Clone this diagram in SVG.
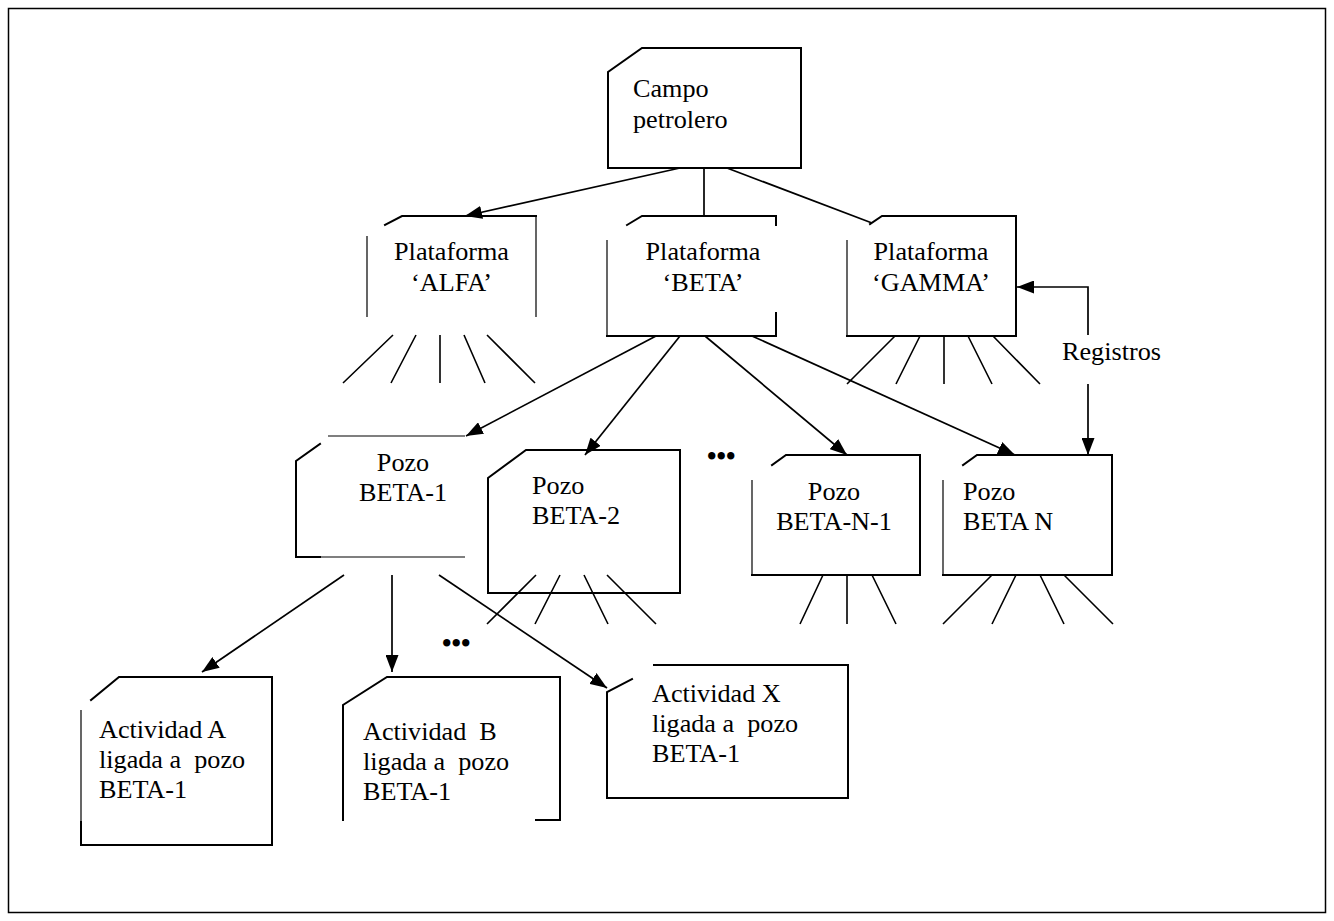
<svg xmlns="http://www.w3.org/2000/svg" width="1334" height="921" viewBox="0 0 1334 921">
<style>
.e{fill:none;stroke:#000;stroke-width:2;stroke-linecap:square}
.t{fill:none;stroke:#000;stroke-width:1.2}
.f{fill:none;stroke:#000;stroke-width:1.6}
.c{fill:none;stroke:#000;stroke-width:1.7}
text{font-family:"Liberation Serif","Times New Roman",serif;font-size:26.2px;fill:#000}
.m{text-anchor:middle}
.d{font-size:27px;font-weight:bold}
</style>
<defs>
<marker id="ah" markerUnits="userSpaceOnUse" markerWidth="17" markerHeight="13" refX="17" refY="6.5" orient="auto">
<path d="M0,0 L17,6.5 L0,13 z" fill="#000"/>
</marker>
</defs>
<rect x="8.5" y="8.5" width="1317" height="904" fill="#fff" stroke="#000" stroke-width="1.5"/>

<g id="campo">
<path class="e" d="M642,48 H801 V168 H608 V72 Z"/>
<text x="633" y="97">Campo</text>
<text x="633" y="128">petrolero</text>
</g>

<g id="alfa">
<path class="e" d="M385,225 L402,216 H536"/>
<path class="t" d="M367,236 V317 M536,216 V317"/>
<text class="m" x="451.5" y="260">Plataforma</text>
<text class="m" x="451.5" y="291">‘ALFA’</text>
<path class="f" d="M393,335 L343,383 M416,335 L391,383 M440,335 V383 M464,335 L485,383 M487,335 L535,383"/>
</g>

<g id="beta">
<path class="e" d="M627,225 L642,216 H776 V225 M776,313 V336 H607"/>
<path class="t" d="M607,240 V336"/>
<text class="m" x="703" y="260">Plataforma</text>
<text class="m" x="703" y="291">‘BETA’</text>
</g>

<g id="gamma">
<path class="e" d="M870,224 L882,216 H1016 V336 H847"/>
<path class="t" d="M847,240 V336"/>
<text class="m" x="931" y="260">Plataforma</text>
<text class="m" x="931" y="291">‘GAMMA’</text>
<path class="f" d="M895,336 L847,384 M920,336 L896,384 M944,336 V384 M968,336 L992,384 M993,336 L1040,384"/>
</g>

<g id="registros">
<text x="1062" y="360">Registros</text>
</g>

<g id="pozo-beta-1">
<path class="e" d="M320,444 L296,461 V557 H320"/>
<path class="t" d="M328,436 H465 M320,557 H465"/>
<text class="m" x="403" y="471">Pozo</text>
<text class="m" x="403" y="501">BETA-1</text>
</g>

<g id="pozo-beta-2">
<path class="e" d="M526,450 H680 V593 H488 V478 Z"/>
<text x="532" y="494">Pozo</text>
<text x="532" y="524">BETA-2</text>
<path class="f" d="M536,575 L487,624 M560,575 L535,624 M584,575 L608,624 M607,575 L656,624"/>
</g>

<g id="pozo-beta-n-1">
<path class="e" d="M772,465 L786,455 H920 V575 H752"/>
<path class="t" d="M752,480 V575"/>
<text class="m" x="834" y="500">Pozo</text>
<text class="m" x="834" y="530">BETA-N-1</text>
<path class="f" d="M823,575 L800,624 M847,575 V624 M872,575 L896,624"/>
</g>

<g id="pozo-beta-n">
<path class="e" d="M963,465 L977,455 H1112 V575 H943"/>
<path class="t" d="M943,480 V575"/>
<text x="963" y="500">Pozo</text>
<text x="963" y="530">BETA N</text>
<path class="f" d="M992,575 L943,624 M1016,575 L992,624 M1040,575 L1064,624 M1064,575 L1113,624"/>
</g>

<g id="ellipsis">
<text class="d" x="707" y="465">•••</text>
<text class="d" x="442" y="652">•••</text>
</g>

<g id="actividad-a">
<path class="e" d="M91,700 L119,677 H272 V845 H81 V822"/>
<path class="t" d="M81,710 V822"/>
<text x="99" y="738">Actividad A</text>
<text x="99" y="768">ligada a&#160; pozo</text>
<text x="99" y="798">BETA-1</text>
</g>

<g id="actividad-b">
<path class="e" d="M343,820 V705 L387,677 H560 V820 H536"/>
<text x="363" y="740">Actividad&#160; B</text>
<text x="363" y="770">ligada a&#160; pozo</text>
<text x="363" y="800">BETA-1</text>
</g>

<g id="actividad-x">
<path class="e" d="M654,665 H848 V798 H607 V692 L632,679"/>
<text x="652" y="702">Actividad X</text>
<text x="652" y="732">ligada a&#160; pozo</text>
<text x="652" y="762">BETA-1</text>
</g>

<g id="connectors">
<line class="c" x1="680" y1="168" x2="465" y2="216" marker-end="url(#ah)"/>
<line class="c" x1="704" y1="168" x2="704" y2="216"/>
<line class="c" x1="727" y1="168" x2="872" y2="223"/>
<line class="c" x1="656" y1="336" x2="466" y2="436" marker-end="url(#ah)"/>
<line class="c" x1="680" y1="336" x2="585" y2="455" marker-end="url(#ah)"/>
<line class="c" x1="705" y1="336" x2="847" y2="455" marker-end="url(#ah)"/>
<line class="c" x1="752" y1="336" x2="1015" y2="455" marker-end="url(#ah)"/>
<path class="c" d="M1088,335 V287 H1017" marker-end="url(#ah)"/>
<path class="c" d="M1088,384 V455" marker-end="url(#ah)"/>
<line class="c" x1="344" y1="575" x2="202" y2="672" marker-end="url(#ah)"/>
<line class="c" x1="392" y1="575" x2="392" y2="672" marker-end="url(#ah)"/>
<line class="c" x1="439" y1="575" x2="607" y2="688" marker-end="url(#ah)"/>
</g>
</svg>
